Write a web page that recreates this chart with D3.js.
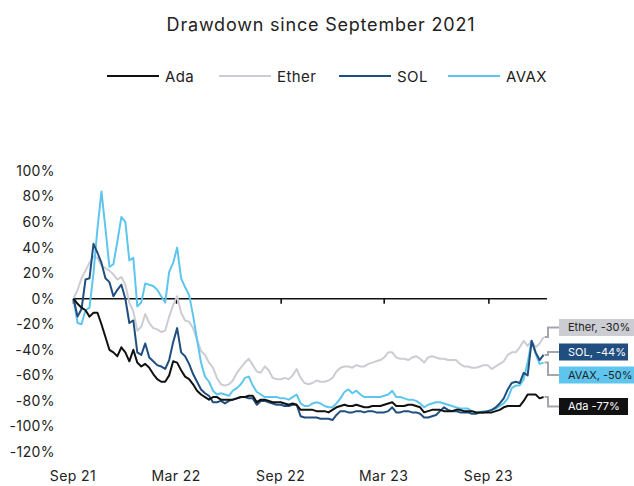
<!DOCTYPE html>
<html>
<head>
<meta charset="utf-8">
<script src="https://cdn.jsdelivr.net/npm/d3@7"></script>
<style>
  body { margin: 0; background: #fff; }
  svg { font-family: Inter, "Open Sans", sans-serif; }
</style>
</head>
<body>
<div id="chart"></div>
<script>
// ----- data (weekly drawdown %) -----
const startDate = "2021-09-02";
const seriesNames = ["Ada", "Ether", "SOL", "AVAX"];
const seriesColors = ["#111111", "#cbcdd2", "#1f4e7f", "#5ec6ee"];

const ada = [0,-4,-7,-9,-14,-11,-11,-20,-30,-40,-42,-45,-38,-42,-49,-40,-50,-53,-51,-54,
  -59,-63,-65,-65,-60,-49,-50,-56,-61,-63,-67,-72,-75,-77,-79,-77,-77,-79,-79,-79,
  -79,-78,-77,-77,-76,-76,-81,-79,-79,-80,-81,-81,-81,-82,-83,-82,-83,-87,-87,-87,
  -87,-88,-88,-88,-89,-87,-85,-84,-83,-84,-84,-83,-84,-85,-85,-84,-84,-84,-83,-82,
  -81,-84,-84,-84,-83,-83,-84,-85,-89,-88,-87,-87,-87,-88,-88,-88,-87,-87,-88,-88,
  -88,-89,-89,-89,-89,-89,-88,-87,-85,-84,-84,-84,-84,-80,-75,-75,-75,-78,-77];

const ether = [0,7,16,22,28,33,32,26,24,22,19,15,17,11,-3,-10,-25,-22,-12,-19,
  -23,-24,-26,-25,-14,-5,2,-11,-17,-18,-23,-32,-41,-44,-50,-54,-62,-67,-68,-67,
  -64,-58,-54,-50,-47,-52,-57,-58,-53,-56,-62,-63,-63,-62,-63,-60,-55,-62,-66,-67,
  -66,-64,-65,-65,-64,-62,-57,-54,-53,-53,-54,-52,-53,-53,-51,-50,-49,-48,-46,-42,
  -42,-46,-47,-47,-48,-46,-45,-47,-50,-46,-45,-46,-47,-47,-48,-48,-48,-51,-53,-53,
  -54,-54,-53,-52,-52,-55,-53,-51,-49,-44,-42,-42,-38,-33,-37,-33,-38,-35,-30];

const sol = [0,-14,-8,15,16,43,36,28,16,13,2,7,11,0,-19,-17,-42,-44,-35,-46,
  -49,-52,-53,-55,-48,-34,-23,-42,-45,-51,-59,-65,-71,-74,-76,-81,-81,-80,-82,-80,
  -79,-78,-77,-77,-78,-78,-83,-80,-80,-81,-82,-83,-83,-84,-84,-83,-83,-92,-93,-93,
  -93,-93,-94,-94,-94,-95,-91,-88,-88,-89,-89,-88,-88,-89,-88,-88,-89,-89,-89,-88,
  -85,-89,-89,-88,-88,-89,-89,-90,-93,-93,-92,-91,-88,-85,-87,-88,-88,-89,-89,-89,
  -90,-90,-89,-89,-88,-87,-85,-82,-78,-71,-66,-65,-66,-58,-60,-33,-42,-48,-44];

const avax = [0,-19,-20,-9,-7,20,55,84,55,25,27,45,64,60,30,32,-6,-3,12,11,
  10,7,2,-3,21,28,40,16,9,3,-13,-32,-50,-61,-65,-72,-75,-74,-75,-76,
  -72,-70,-67,-62,-61,-68,-73,-75,-77,-77,-77,-77,-78,-78,-79,-77,-75,-82,-84,-84,
  -82,-81,-82,-84,-85,-85,-82,-78,-73,-71,-74,-72,-75,-77,-77,-77,-77,-77,-76,-75,
  -72,-77,-77,-78,-79,-79,-80,-82,-85,-83,-82,-81,-81,-82,-83,-84,-85,-86,-86,-86,
  -88,-89,-89,-88,-88,-87,-86,-84,-82,-78,-70,-68,-68,-63,-50,-33,-43,-51,-50];

const endLabels = ["Ada -77%", "Ether, -30%", "SOL, -44%", "AVAX, -50%"];
const endLabelTextColors = ["#fff", "#222", "#fff", "#222"];
const yTicks = [100, 80, 60, 40, 20, 0, -20, -40, -60, -80, -100, -120];
const xTickDates = ["2021-09-01", "2022-03-01", "2022-09-01", "2023-03-01", "2023-09-01"];
const xTickLabels = ["Sep 21", "Mar 22", "Sep 22", "Mar 23", "Sep 23"];

// ----- setup -----
const width = 634, height = 486;
const svg = d3.select("#chart").append("svg")
  .attr("width", width).attr("height", height);

const parse = d3.utcParse("%Y-%m-%d");
const t0 = parse(startDate);
const allValues = [ada, ether, sol, avax];
const series = seriesNames.map((name, k) => ({
  name,
  color: seriesColors[k],
  values: allValues[k].map((v, i) => ({ date: d3.utcDay.offset(t0, 7 * i), value: v }))
}));

const x = d3.scaleUtc()
  .domain([parse("2021-09-01"), parse("2023-12-13")])
  .range([73, 547]);
const y = d3.scaleLinear().domain([-120, 100]).range([452, 171]);

// title
svg.append("text")
  .attr("x", 321).attr("y", 31)
  .attr("text-anchor", "middle")
  .attr("font-size", 18).attr("letter-spacing", 0.8).attr("fill", "#222")
  .text("Drawdown since September 2021");

// legend
const legendX = [107, 219, 339, 448];
const legend = svg.append("g");
series.forEach((s, k) => {
  legend.append("line")
    .attr("x1", legendX[k]).attr("x2", legendX[k] + 52)
    .attr("y1", 76).attr("y2", 76)
    .attr("stroke", s.color).attr("stroke-width", 2);
  legend.append("text")
    .attr("x", legendX[k] + 58).attr("y", 82)
    .attr("font-size", 15).attr("letter-spacing", 0.4).attr("fill", "#222")
    .text(s.name);
});

// y axis labels (no line)
svg.append("g").selectAll("text")
  .data(yTicks).join("text")
  .attr("x", 55).attr("y", d => y(d))
  .attr("dy", "0.35em")
  .attr("text-anchor", "end")
  .attr("font-size", 14).attr("letter-spacing", 0.4).attr("fill", "#222")
  .text(d => d + "%");

// zero axis line with ticks
const xAxis = d3.axisBottom(x)
  .tickValues(xTickDates.map(parse))
  .tickSize(5)
  .tickFormat("");
const axisG = svg.append("g")
  .attr("transform", `translate(0,${y(0)})`)
  .call(xAxis);
axisG.select(".domain").attr("stroke", "#111").attr("stroke-width", 1.6)
  .attr("d", `M${x.range()[0]},0H${x.range()[1]}`);
axisG.selectAll(".tick line").attr("stroke", "#111").attr("stroke-width", 1.6);

// x labels at bottom
svg.append("g").selectAll("text")
  .data(xTickDates).join("text")
  .attr("x", d => x(parse(d))).attr("y", 481)
  .attr("text-anchor", "middle")
  .attr("font-size", 14).attr("letter-spacing", 0.4).attr("fill", "#222")
  .text((d, i) => xTickLabels[i]);

// lines (draw Ether first so it sits behind)
const line = d3.line().x(d => x(d.date)).y(d => y(d.value));
[1, 3, 2, 0].forEach(k => {
  svg.append("path")
    .datum(series[k].values)
    .attr("fill", "none")
    .attr("stroke", series[k].color)
    .attr("stroke-width", 2)
    .attr("stroke-linejoin", "round")
    .attr("d", line);
});

// end labels
const boxY = [406.5, 327.5, 352, 375];
const boxW = [69, 76, 69, 75];
series.forEach((s, k) => {
  const last = s.values[s.values.length - 1];
  const ex = x(last.date) + 1, ey = y(last.value);
  svg.append("path")
    .attr("d", `M${ex},${ey}H548V${boxY[k]}H559`)
    .attr("fill", "none").attr("stroke", "#a3a7ad").attr("stroke-width", 2);
  svg.append("rect")
    .attr("x", 559).attr("y", boxY[k] - 8.5)
    .attr("width", boxW[k]).attr("height", 17)
    .attr("fill", s.color);
  svg.append("text")
    .attr("x", 568).attr("y", boxY[k])
    .attr("dy", "0.35em")
    .attr("font-size", 11).attr("fill", endLabelTextColors[k])
    .text(endLabels[k]);
});
</script>
</body>
</html>
